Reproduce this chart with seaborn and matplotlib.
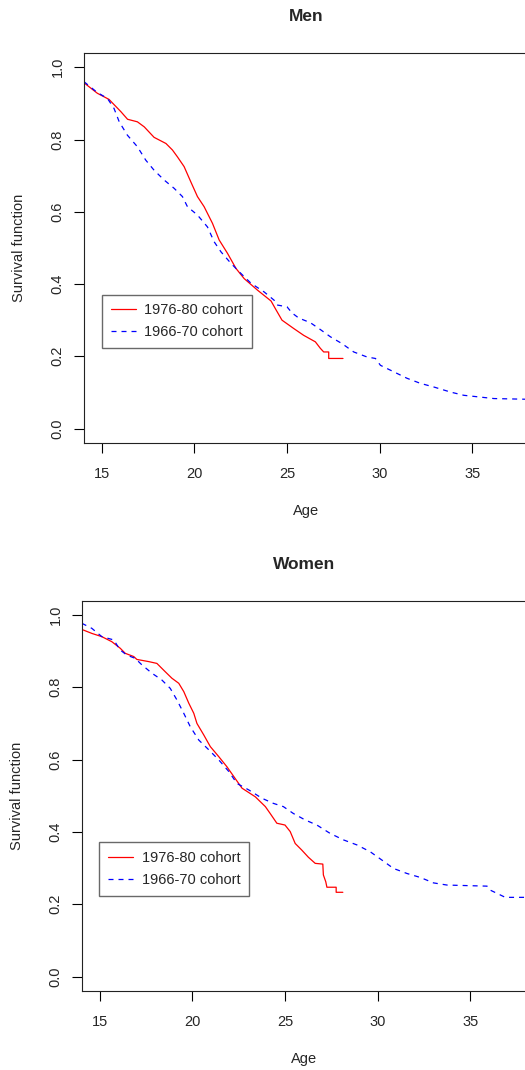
import numpy as np
import pandas as pd
import matplotlib
matplotlib.use("Agg")
import matplotlib.pyplot as plt
from matplotlib import font_manager
import seaborn as sns

# ---- Kaplan-Meier survival estimates (age at event, survival probability) ----
men_7680_age = [14.05, 14.77, 15.4, 16.04, 16.4, 16.93, 17.3, 17.83, 18.47, 18.82, 19.09,
                19.45, 19.81, 20.17, 20.53, 20.98, 21.34, 21.79, 22.25, 22.69, 23.41, 24.14,
                24.37, 24.73, 25.36, 25.9, 26.53, 26.8, 26.98, 27.25, 27.25, 28.02]
men_7680_surv = [0.957, 0.928, 0.911, 0.877, 0.856, 0.849, 0.835, 0.806, 0.789, 0.771, 0.752,
                 0.725, 0.683, 0.642, 0.614, 0.568, 0.522, 0.485, 0.443, 0.415, 0.383, 0.353,
                 0.332, 0.300, 0.277, 0.258, 0.240, 0.222, 0.212, 0.212, 0.194, 0.194]

men_6670_age = [14.05, 14.77, 15.31, 15.67, 15.95, 16.39, 16.93, 17.38, 17.83, 18.37, 18.91,
                19.36, 19.63, 20.17, 20.71, 21.07, 21.44, 21.98, 22.52, 23.06, 23.77, 24.31,
                24.46, 25.0, 25.27, 25.63, 26.26, 26.8, 27.34, 27.97, 28.6, 29.32, 29.77,
                30.04, 30.76, 31.48, 32.2, 32.92, 33.82, 34.54, 35.26, 36.16, 38.0]
men_6670_surv = [0.960, 0.930, 0.914, 0.886, 0.849, 0.812, 0.780, 0.743, 0.715, 0.688, 0.665,
                 0.642, 0.614, 0.591, 0.558, 0.517, 0.489, 0.457, 0.429, 0.402, 0.378, 0.355,
                 0.342, 0.337, 0.320, 0.306, 0.293, 0.274, 0.254, 0.235, 0.212, 0.198, 0.194,
                 0.175, 0.157, 0.139, 0.125, 0.115, 0.101, 0.092, 0.088, 0.083, 0.081]

women_7680_age = [14.04, 14.58, 15.12, 15.66, 16.11, 16.38, 16.84, 17.01, 17.65, 18.09, 18.54,
                  18.9, 19.27, 19.54, 19.81, 20.08, 20.25, 20.62, 20.97, 21.43, 21.87, 22.24,
                  22.68, 23.4, 23.94, 24.2, 24.56, 25.0, 25.28, 25.55, 25.9, 26.26, 26.63,
                  27.04, 27.07, 27.2, 27.26, 27.76, 27.76, 28.12]
women_7680_surv = [0.960, 0.949, 0.940, 0.926, 0.908, 0.894, 0.885, 0.877, 0.871, 0.866, 0.843,
                   0.825, 0.811, 0.788, 0.756, 0.728, 0.700, 0.668, 0.636, 0.608, 0.580, 0.553,
                   0.521, 0.497, 0.470, 0.451, 0.424, 0.419, 0.401, 0.368, 0.350, 0.330, 0.313,
                   0.311, 0.281, 0.262, 0.247, 0.247, 0.233, 0.233]

women_6670_age = [14.04, 14.58, 15.12, 15.76, 16.11, 16.47, 16.92, 17.28, 17.82, 18.36, 18.81,
                  19.17, 19.54, 19.89, 20.35, 20.89, 21.43, 21.97, 22.41, 23.05, 23.76, 24.37,
                  24.91, 25.45, 26.09, 26.72, 27.43, 28.15, 28.88, 29.6, 30.23, 30.85, 31.58,
                  32.3, 33.01, 33.74, 35.9, 36.07, 36.44, 36.88, 38.0]
women_6670_surv = [0.977, 0.963, 0.940, 0.931, 0.903, 0.889, 0.880, 0.862, 0.839, 0.820, 0.797,
                   0.765, 0.728, 0.691, 0.654, 0.627, 0.599, 0.567, 0.534, 0.516, 0.493, 0.479,
                   0.470, 0.451, 0.433, 0.419, 0.396, 0.378, 0.364, 0.345, 0.322, 0.299, 0.285,
                   0.274, 0.259, 0.253, 0.250, 0.239, 0.230, 0.219, 0.219]

cohorts = ["1976-80 cohort", "1966-70 cohort"]
panel_titles = ["Men", "Women"]
x_ticks = [15, 20, 25, 30, 35]
y_ticks = [0.0, 0.2, 0.4, 0.6, 0.8, 1.0]


def frame(a76, s76, a66, s66):
    parts = [
        pd.DataFrame({"age": a76, "surv": s76, "cohort": cohorts[0]}),
        pd.DataFrame({"age": a66, "surv": s66, "cohort": cohorts[1]}),
    ]
    return pd.concat(parts, ignore_index=True)


panels = [
    frame(men_7680_age, men_7680_surv, men_6670_age, men_6670_surv),
    frame(women_7680_age, women_7680_surv, women_6670_age, women_6670_surv),
]

sns.set_style("white")
available = {f.name for f in font_manager.fontManager.ttflist}
family = "Liberation Sans Narrow" if "Liberation Sans Narrow" in available else "Liberation Sans"
plt.rcParams["font.family"] = [family, "DejaVu Sans"]

W, H = 525, 1070
fig = plt.figure(figsize=(W / 100, H / 100), dpi=100)

# axes boxes in pixels: (left, top, right, bottom)
boxes = [(84, 52.8, 528, 443), (82, 600.5, 526, 991)]
legend_anchor = [(0.0405, 0.380), (0.039, 0.381)]

FS = 10.5
for box, data, title, anchor in zip(boxes, panels, panel_titles, legend_anchor):
    l, t, r, b = box
    ax = fig.add_axes([l / W, 1 - b / H, (r - l) / W, (b - t) / H])
    sns.lineplot(data=data, x="age", y="surv", hue="cohort", style="cohort",
                 hue_order=cohorts, style_order=cohorts,
                 palette={cohorts[0]: "#FF0000", cohorts[1]: "#0000FF"},
                 dashes={cohorts[0]: "", cohorts[1]: (4, 4)},
                 estimator=None, errorbar=None, sort=False,
                 linewidth=0.9, ax=ax)
    ax.set_xlim(14.05, 38.0)
    ax.set_ylim(-0.04, 1.04)
    ax.set_xticks(x_ticks)
    ax.set_xticklabels([str(v) for v in x_ticks], fontsize=FS)
    ax.set_yticks(y_ticks)
    ax.set_yticklabels([f"{v:.1f}" for v in y_ticks], fontsize=FS,
                       rotation=90, va="center", ha="right")
    ax.tick_params(axis="both", direction="out", length=7, width=0.8, color="black",
                   left=True, bottom=True)
    ax.tick_params(axis="x", pad=10)
    ax.tick_params(axis="y", pad=7)
    for s in ax.spines.values():
        s.set_color("#222222")
        s.set_linewidth(0.8)
    ax.set_xlabel("Age", fontsize=FS, labelpad=17)
    ax.set_ylabel("Survival function", fontsize=FS, labelpad=18)
    ax.set_title(title, fontsize=12.5, fontweight="bold", pad=23)

    handles, labels = ax.get_legend_handles_labels()
    leg = ax.legend(handles, labels, loc="upper left", bbox_to_anchor=anchor,
                    frameon=True, fancybox=False, shadow=False, fontsize=FS,
                    handlelength=1.7, handletextpad=0.6, borderpad=0.6,
                    labelspacing=0.55, borderaxespad=0)
    leg.get_frame().set_edgecolor("#444444")
    leg.get_frame().set_linewidth(1.0)
    for line in leg.get_lines():
        line.set_linewidth(0.9)

fig.savefig("out.png", dpi=100)
